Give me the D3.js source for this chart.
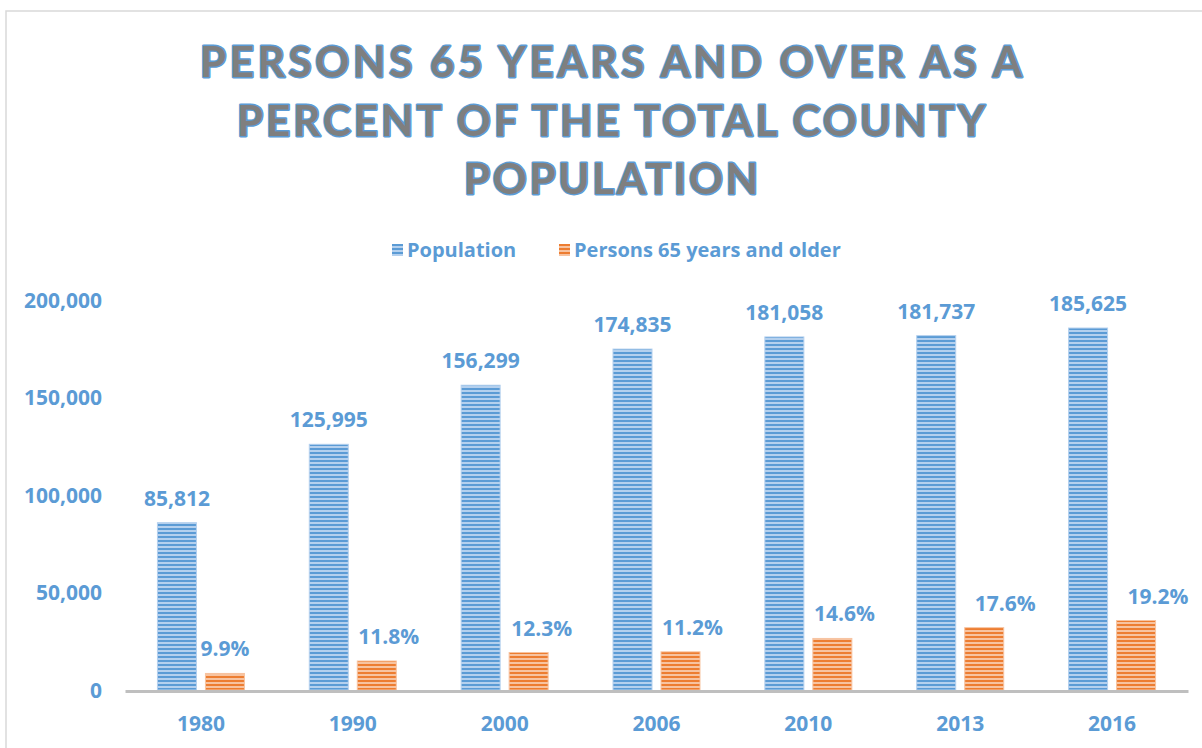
<!DOCTYPE html>
<html>
<head>
<meta charset="utf-8">
<script src="https://cdn.jsdelivr.net/npm/d3@7"></script>
<style>
  html, body { margin: 0; padding: 0; background: #ffffff; }
  svg { display: block; }
  text { font-family: "Open Sans", Lato, "Noto Sans", sans-serif; font-weight: 700; }
  .title { font-family: Lato, "Open Sans", sans-serif; font-weight: 700; }
</style>
</head>
<body>
<svg id="chart" width="1202" height="748"></svg>
<script>
// Census years and values
const years = ["1980", "1990", "2000", "2006", "2010", "2013", "2016"];
const population = [85812, 125995, 156299, 174835, 181058, 181737, 185625];
const pctOver65 = [9.9, 11.8, 12.3, 11.2, 14.6, 17.6, 19.2];
const yTicks = [0, 50000, 100000, 150000, 200000];
const titleLines = [
  "PERSONS 65 YEARS AND OVER AS A",
  "PERCENT OF THE TOTAL COUNTY",
  "POPULATION"
];
const seriesNames = ["Population", "Persons 65 years and older"];

// Number of residents aged 65+ (bar height), from share × total population
const over65 = population.map((p, i) => p * pctOver65[i] / 100);

const BLUE = "#5b9bd5", BLUE_LIGHT = "#b4d0ee";
const ORANGE = "#ed7d31", ORANGE_LIGHT = "#f7c3a0";
const LABEL = "#5b9bd5";
const FS = 21;

const svg = d3.select("#chart");

// Horizontal stripe fills
const defs = svg.append("defs");
function stripes(id, light, dark) {
  const p = defs.append("pattern").attr("id", id)
    .attr("patternUnits", "userSpaceOnUse").attr("width", 8).attr("height", 4);
  p.append("rect").attr("width", 8).attr("height", 4).attr("fill", light);
  p.append("rect").attr("y", 0).attr("width", 8).attr("height", 2).attr("fill", dark);
}
stripes("stripeBlue", BLUE_LIGHT, BLUE);
stripes("stripeOrange", ORANGE_LIGHT, ORANGE);

// Chart frame
svg.append("rect").attr("x", 6).attr("y", 11).attr("width", 1300).attr("height", 800)
  .attr("fill", "none").attr("stroke", "#d9d9d9").attr("stroke-width", 1.5);

// Title
const titleWidths = [822, 748, 294];
svg.append("g").selectAll("text").data(titleLines).join("text")
  .attr("class", "title")
  .attr("x", 611).attr("y", (d, i) => 77 + i * 58.5)
  .attr("text-anchor", "middle")
  .attr("font-size", 42)
  .attr("textLength", (d, i) => titleWidths[i])
  .attr("lengthAdjust", "spacing")
  .attr("fill", "#7f7f7f")
  .attr("stroke", BLUE).attr("stroke-width", 2.8)
  .attr("paint-order", "stroke")
  .attr("stroke-linejoin", "round")
  .text(d => d);

// Legend
const legendItems = [
  { name: seriesNames[0], fill: "url(#stripeBlue)", x: 392 },
  { name: seriesNames[1], fill: "url(#stripeOrange)", x: 559 }
];
const lg = svg.append("g").selectAll("g").data(legendItems).join("g")
  .attr("transform", d => `translate(${d.x},0)`);
lg.append("rect").attr("x", 0).attr("y", 244).attr("width", 11).attr("height", 12)
  .attr("fill", d => d.fill);
lg.append("text").attr("x", 15).attr("y", 257).attr("font-size", 20)
  .attr("fill", LABEL).text(d => d.name);

// Scales
const x = d3.scaleBand().domain(years).range([125, 1188]);
const y = d3.scaleLinear().domain([0, 200000]).range([690, 300]);
const barW = 39, gap = 9;
const groupOffset = (x.bandwidth() - (2 * barW + gap)) / 2;
const xBlue = d => x(d) + groupOffset;
const xOrange = d => x(d) + groupOffset + barW + gap;

// Y axis (labels only)
const yAxis = d3.axisLeft(y).tickValues(yTicks).tickSize(0).tickPadding(0)
  .tickFormat(d3.format(","));
const yg = svg.append("g").attr("transform", "translate(102,0)").call(yAxis);
yg.select(".domain").remove();
yg.selectAll("text").attr("font-size", FS).attr("fill", LABEL)
  .attr("font-family", null).attr("dy", "0.35em");

// Bars
const rows = years.map((yr, i) => ({ yr, pop: population[i], old: over65[i], pct: pctOver65[i], i }));
svg.append("g").selectAll("rect").data(rows).join("rect")
  .attr("x", d => xBlue(d.yr)).attr("y", d => y(d.pop))
  .attr("width", barW).attr("height", d => y(0) - y(d.pop))
  .attr("fill", "url(#stripeBlue)")
  .attr("stroke", BLUE_LIGHT).attr("stroke-width", 1);
svg.append("g").selectAll("rect").data(rows).join("rect")
  .attr("x", d => xOrange(d.yr)).attr("y", d => y(d.old))
  .attr("width", barW).attr("height", d => y(0) - y(d.old))
  .attr("fill", "url(#stripeOrange)")
  .attr("stroke", ORANGE_LIGHT).attr("stroke-width", 1);

// X axis line and year labels
const xAxis = d3.axisBottom(x).tickSize(0).tickPadding(0);
const xg = svg.append("g").attr("transform", "translate(0,691)").call(xAxis);
xg.select(".domain").attr("stroke", "#bfbfbf").attr("stroke-width", 3);
xg.selectAll("text").attr("font-size", FS).attr("fill", LABEL)
  .attr("font-family", null).attr("dy", null).attr("y", 40);

// Data labels
svg.append("g").selectAll("text").data(rows).join("text")
  .attr("x", d => xBlue(d.yr) + barW / 2).attr("y", d => y(d.pop) - 17)
  .attr("text-anchor", "middle").attr("font-size", FS).attr("fill", LABEL)
  .text(d => d3.format(",")(d.pop));

const pctNudge = [0, 12, 13, 12, 12, 21, 22];
svg.append("g").selectAll("text").data(rows).join("text")
  .attr("x", d => xOrange(d.yr) + barW / 2 + pctNudge[d.i]).attr("y", d => y(d.old) - 17)
  .attr("text-anchor", "middle").attr("font-size", FS).attr("fill", LABEL)
  .text(d => d.pct.toFixed(1) + "%");
</script>
</body>
</html>
